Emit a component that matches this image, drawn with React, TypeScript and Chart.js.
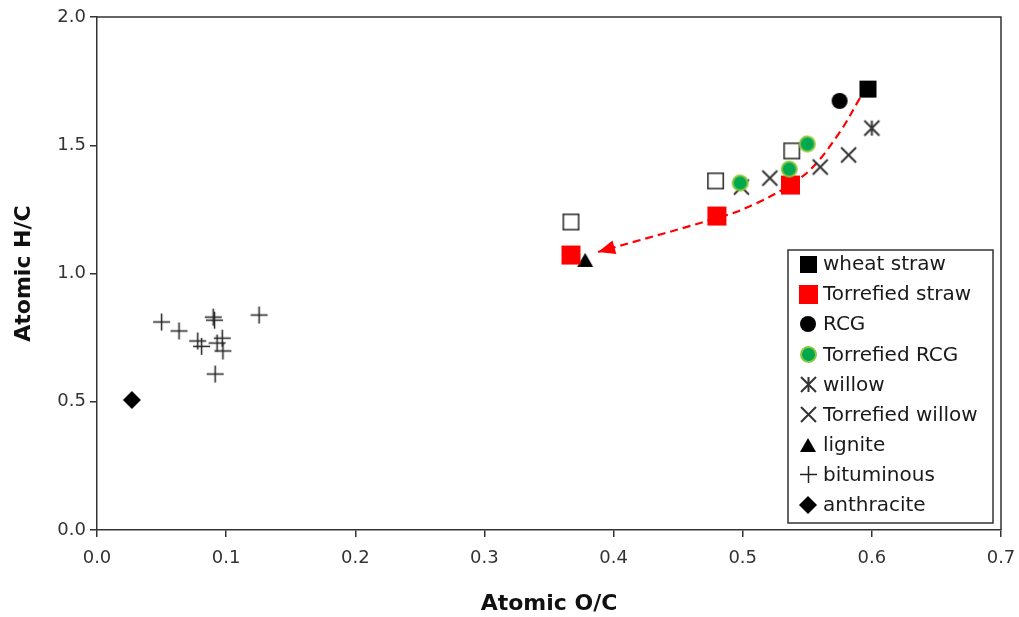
import React, { useEffect, useRef } from 'react';
import { Chart, registerables } from 'chart.js';

Chart.register(...registerables);

// ---- Data ----
const wheatStraw = [{ x: 0.597, y: 1.719 }];
const torrefiedStraw = [
  { x: 0.367, y: 1.072 },
  { x: 0.480, y: 1.224 },
  { x: 0.537, y: 1.345 },
];
const openSquares = [
  { x: 0.367, y: 1.201 },
  { x: 0.479, y: 1.361 },
  { x: 0.538, y: 1.478 },
];
const rcg = [{ x: 0.575, y: 1.673 }];
const torrefiedRcg = [
  { x: 0.498, y: 1.353 },
  { x: 0.536, y: 1.407 },
  { x: 0.550, y: 1.505 },
];
const willow = [{ x: 0.600, y: 1.567 }];
const torrefiedWillow = [
  { x: 0.499, y: 1.337 },
  { x: 0.521, y: 1.372 },
  { x: 0.560, y: 1.415 },
  { x: 0.582, y: 1.462 },
];
const lignite = [{ x: 0.378, y: 1.053 }];
const bituminous = [
  { x: 0.050, y: 0.811 },
  { x: 0.0635, y: 0.776 },
  { x: 0.090, y: 0.830 },
  { x: 0.091, y: 0.818 },
  { x: 0.1255, y: 0.838 },
  { x: 0.078, y: 0.737 },
  { x: 0.081, y: 0.716 },
  { x: 0.093, y: 0.729 },
  { x: 0.097, y: 0.748 },
  { x: 0.0975, y: 0.698 },
  { x: 0.0915, y: 0.608 },
];
const anthracite = [{ x: 0.027, y: 0.507 }];
const torrefactionPath = [
  { x: 0.5908, y: 1.684 },
  { x: 0.5753, y: 1.552 },
  { x: 0.5544, y: 1.415 },
  { x: 0.5366, y: 1.345 },
  { x: 0.5111, y: 1.275 },
  { x: 0.4878, y: 1.228 },
  { x: 0.388, y: 1.084 },
];
const xTickValues = [0, 0.1, 0.2, 0.3, 0.4, 0.5, 0.6, 0.7];
const yTickValues = [0, 0.5, 1.0, 1.5, 2.0];
const legendLabels = [
  'wheat straw',
  'Torrefied straw',
  'RCG',
  'Torrefied RCG',
  'willow',
  'Torrefied willow',
  'lignite',
  'bituminous',
  'anthracite',
];

// ---- Marker images ----
function makeMarker(size: number, draw: (ctx: CanvasRenderingContext2D, c: number) => void) {
  const cv = document.createElement('canvas');
  cv.width = size;
  cv.height = size;
  const ctx = cv.getContext('2d')!;
  draw(ctx, size / 2);
  return cv;
}
const squareMarker = (side: number, fill: string, stroke?: string, lw = 1.5) =>
  makeMarker(side + 2, (ctx, c) => {
    ctx.fillStyle = fill;
    ctx.fillRect(c - side / 2, c - side / 2, side, side);
    if (stroke) {
      ctx.strokeStyle = stroke;
      ctx.lineWidth = lw;
      ctx.strokeRect(c - side / 2 + lw / 2, c - side / 2 + lw / 2, side - lw, side - lw);
    }
  });
const circleMarker = (d: number, fill: string, stroke?: string, lw = 2) =>
  makeMarker(d + 2, (ctx, c) => {
    ctx.beginPath();
    ctx.arc(c, c, stroke ? d / 2 - lw / 2 : d / 2, 0, Math.PI * 2);
    ctx.fillStyle = fill;
    ctx.fill();
    if (stroke) {
      ctx.strokeStyle = stroke;
      ctx.lineWidth = lw;
      ctx.stroke();
    }
  });
const xMarker = (span: number, color: string, lw: number, star = false) =>
  makeMarker(span + 4, (ctx, c) => {
    const h = span / 2;
    ctx.strokeStyle = color;
    ctx.lineWidth = lw;
    ctx.beginPath();
    ctx.moveTo(c - h, c - h);
    ctx.lineTo(c + h, c + h);
    ctx.moveTo(c + h, c - h);
    ctx.lineTo(c - h, c + h);
    if (star) {
      ctx.moveTo(c, c - h);
      ctx.lineTo(c, c + h);
    }
    ctx.stroke();
  });
const plusMarker = (span: number, color: string, lw: number) =>
  makeMarker(span + 2, (ctx, c) => {
    const h = span / 2;
    ctx.strokeStyle = color;
    ctx.lineWidth = lw;
    ctx.beginPath();
    ctx.moveTo(c - h, c);
    ctx.lineTo(c + h, c);
    ctx.moveTo(c, c - h);
    ctx.lineTo(c, c + h);
    ctx.stroke();
  });
const triangleMarker = (w: number, h: number, fill: string) =>
  makeMarker(Math.max(w, h) + 2, (ctx, c) => {
    ctx.fillStyle = fill;
    ctx.beginPath();
    ctx.moveTo(c, c - h / 2);
    ctx.lineTo(c + w / 2, c + h / 2);
    ctx.lineTo(c - w / 2, c + h / 2);
    ctx.closePath();
    ctx.fill();
  });
const diamondMarker = (span: number, fill: string) =>
  makeMarker(span + 2, (ctx, c) => {
    const h = span / 2;
    ctx.fillStyle = fill;
    ctx.beginPath();
    ctx.moveTo(c, c - h);
    ctx.lineTo(c + h, c);
    ctx.lineTo(c, c + h);
    ctx.lineTo(c - h, c);
    ctx.closePath();
    ctx.fill();
  });

const FONT = "'DejaVu Sans', 'Liberation Sans', Arial, sans-serif";

export default function App() {
  const ref = useRef<HTMLCanvasElement | null>(null);

  useEffect(() => {
    const mk = {
      wheat: squareMarker(17, '#000'),
      tStraw: squareMarker(19, '#ff0000'),
      open: squareMarker(17, '#fff', '#333', 1.6),
      rcg: circleMarker(16, '#000'),
      tRcg: circleMarker(17, '#00a84f', '#8dc63f', 2),
      willow: xMarker(15, '#333', 2, true),
      tWillow: xMarker(15, '#333', 2),
      lignite: triangleMarker(16, 14, '#000'),
      bit: plusMarker(17, '#222', 1.5),
      anth: diamondMarker(18, '#000'),
    };
    const legendMarkers = [mk.wheat, mk.tStraw, mk.rcg, mk.tRcg, mk.willow, mk.tWillow, mk.lignite, mk.bit, mk.anth];

    const ds = (label: string, data: any[], style: HTMLCanvasElement, order: number) => ({
      label,
      data,
      pointStyle: style,
      pointRadius: 8,
      showLine: false,
      order,
    });

    const framePlugin = {
      id: 'frame',
      beforeDatasetsDraw(chart: any) {
        const { ctx, chartArea: a } = chart;
        ctx.save();
        ctx.strokeStyle = '#333';
        ctx.lineWidth = 1.5;
        ctx.beginPath();
        ctx.moveTo(a.left, a.top);
        ctx.lineTo(a.right, a.top);
        ctx.lineTo(a.right, a.bottom);
        ctx.stroke();
        ctx.restore();
      },
    };

    const arrowPlugin = {
      id: 'arrowHead',
      afterDatasetsDraw(chart: any) {
        const idx = chart.data.datasets.findIndex((d: any) => d.label === 'path');
        const meta = chart.getDatasetMeta(idx);
        const pts = meta.data;
        if (pts.length < 2) return;
        const p1 = pts[pts.length - 1];
        const p0 = pts[pts.length - 2];
        const ang = Math.atan2(p1.y - p0.y, p1.x - p0.x);
        const len = 17;
        const hw = 7;
        const { ctx } = chart;
        ctx.save();
        ctx.translate(p1.x, p1.y);
        ctx.rotate(ang);
        ctx.fillStyle = '#ff0000';
        ctx.beginPath();
        ctx.moveTo(0, 0);
        ctx.lineTo(-len, -hw);
        ctx.lineTo(-len, hw);
        ctx.closePath();
        ctx.fill();
        ctx.restore();
      },
    };

    const legendPlugin = {
      id: 'insideLegend',
      afterDraw(chart: any) {
        const { ctx, chartArea: a } = chart;
        const w = 205;
        const rowH = 30.1;
        const h = 273;
        const right = a.right - 8;
        const bottom = a.bottom - 7;
        const left = right - w;
        const top = bottom - h;
        ctx.save();
        ctx.fillStyle = '#fff';
        ctx.fillRect(left, top, w, h);
        ctx.strokeStyle = '#333';
        ctx.lineWidth = 1.5;
        ctx.strokeRect(left, top, w, h);
        ctx.font = `20px ${FONT}`;
        ctx.fillStyle = '#1a1a1a';
        ctx.textBaseline = 'middle';
        ctx.textAlign = 'left';
        legendLabels.forEach((lab, i) => {
          const cy = top + 14 + i * rowH;
          const m = legendMarkers[i];
          ctx.drawImage(m, Math.round(left + 20 - m.width / 2), Math.round(cy - m.height / 2));
          ctx.fillText(lab, left + 35, cy + 1);
        });
        ctx.restore();
      },
    };

    const chart = new Chart(ref.current!, {
      type: 'scatter',
      data: {
        datasets: [
          ds('Torrefied RCG', torrefiedRcg, mk.tRcg, 1),
          ds('Torrefied straw', torrefiedStraw, mk.tStraw, 2),
          ds('RCG', rcg, mk.rcg, 3),
          ds('wheat straw', wheatStraw, mk.wheat, 4),
          ds('lignite', lignite, mk.lignite, 5),
          ds('open', openSquares, mk.open, 6),
          ds('Torrefied willow', torrefiedWillow, mk.tWillow, 7),
          ds('willow', willow, mk.willow, 8),
          ds('bituminous', bituminous, mk.bit, 9),
          ds('anthracite', anthracite, mk.anth, 10),
          {
            label: 'path',
            data: torrefactionPath,
            showLine: true,
            pointRadius: 0,
            borderColor: '#ff0000',
            borderWidth: 2.2,
            borderDash: [8, 5],
            tension: 0.35,
            order: 11,
          } as any,
        ],
      },
      options: {
        responsive: false,
        animation: false,
        events: [],
        layout: { padding: { top: 17, right: 18, left: 0, bottom: 0 } },
        plugins: {
          legend: { display: false },
          tooltip: { enabled: false },
        },
        scales: {
          x: {
            type: 'linear',
            min: 0,
            max: 0.7,
            afterBuildTicks: (s: any) => {
              s.ticks = xTickValues.map((v) => ({ value: v }));
            },
            afterFit: (s: any) => {
              s.height = 87;
              s.paddingLeft = 0;
              s.paddingRight = 0;
            },
            ticks: {
              callback: (v: any) => Number(v).toFixed(1),
              font: { family: FONT, size: 18 },
              color: '#333',
              padding: 11,
            },
            grid: { drawOnChartArea: false, drawTicks: true, tickLength: 7, color: '#333', lineWidth: 1.5 },
            border: { display: true, color: '#333', width: 1.5 },
            title: {
              display: true,
              text: 'Atomic O/C',
              font: { family: FONT, size: 22, weight: 'bold' },
              color: '#111',
              padding: { top: 0, bottom: 0 },
            },
          },
          y: {
            type: 'linear',
            min: 0,
            max: 2,
            afterBuildTicks: (s: any) => {
              s.ticks = yTickValues.map((v) => ({ value: v }));
            },
            afterFit: (s: any) => {
              s.width = 97;
              s.paddingTop = 0;
              s.paddingBottom = 0;
            },
            ticks: {
              callback: (v: any) => Number(v).toFixed(1),
              font: { family: FONT, size: 18 },
              color: '#333',
              padding: 4,
            },
            grid: { drawOnChartArea: false, drawTicks: true, tickLength: 7, color: '#333', lineWidth: 1.5 },
            border: { display: true, color: '#333', width: 1.5 },
            title: {
              display: true,
              text: 'Atomic H/C',
              font: { family: FONT, size: 22, weight: 'bold' },
              color: '#111',
              padding: { top: 11, bottom: 0 },
            },
          },
        },
      } as any,
      plugins: [framePlugin, arrowPlugin, legendPlugin],
    });
    return () => chart.destroy();
  }, []);

  return (
    <div style={{ position: 'fixed', left: 0, top: 0, width: 1019, height: 617, background: '#fff' }}>
      <canvas ref={ref} width={1019} height={617} style={{ display: 'block' }} />
    </div>
  );
}
